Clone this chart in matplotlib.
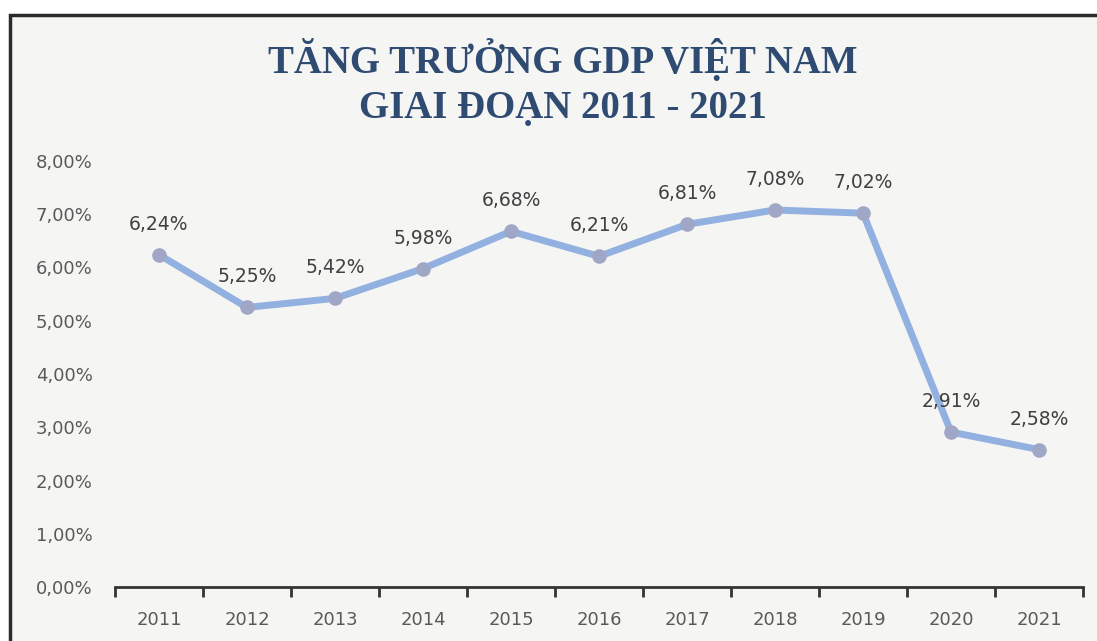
import matplotlib.pyplot as plt
from matplotlib.patches import Rectangle
from matplotlib.ticker import FuncFormatter

years = ['2011', '2012', '2013', '2014', '2015', '2016', '2017', '2018', '2019', '2020', '2021']
gdp = [6.24, 5.25, 5.42, 5.98, 6.68, 6.21, 6.81, 7.08, 7.02, 2.91, 2.58]
yticks = [0, 1, 2, 3, 4, 5, 6, 7, 8]
title_lines = ['TĂNG TRƯỞNG GDP VIỆT NAM', 'GIAI ĐOẠN 2011 - 2021']

plt.rcParams['font.family'] = ['DejaVu Sans']

fig = plt.figure(figsize=(10.97, 6.41), dpi=100)
fig.patch.set_facecolor('white')

# chart area background + frame (cut off at right/bottom like the scan)
bg = Rectangle((10 / 1097, -0.05), 1.1, (641 - 15) / 641 + 0.05, transform=fig.transFigure,
               facecolor='#f5f5f3', edgecolor='#2b2b2b', linewidth=2.5, zorder=-5)
fig.patches.append(bg)

ax = fig.add_axes([115 / 1097, 54 / 641, (1083 - 115) / 1097, (587 - 161) / 641])
ax.set_zorder(2)
ax.set_facecolor('none')

x = list(range(len(years)))
ax.plot(x, gdp, color='#93b1e0', linewidth=5, solid_capstyle='round', zorder=2)
ax.plot(x, gdp, 'o', color='#a0a7c6', markersize=9.5, zorder=3)

for i, v in enumerate(gdp):
    ax.annotate('{:.2f}%'.format(v).replace('.', ','), (i, v), xytext=(0, 22),
                textcoords='offset points', ha='center', va='center',
                fontsize=13.5, color='#404040')

ax.set_xlim(-0.5, len(years) - 0.5)
ax.set_ylim(0, 8)
ax.set_yticks(yticks)
ax.yaxis.set_major_formatter(FuncFormatter(lambda v, p: '{:.2f}%'.format(v).replace('.', ',')))
ax.set_xticks(x)
ax.set_xticklabels(years)
ax.set_xticks([i - 0.5 for i in range(len(years) + 1)], minor=True)

for s in ['top', 'right', 'left']:
    ax.spines[s].set_visible(False)
ax.spines['bottom'].set_color('#333333')
ax.spines['bottom'].set_linewidth(2)

ax.tick_params(axis='y', length=0, pad=16, labelsize=13, labelcolor='#595959')
ax.tick_params(axis='x', which='major', length=0, pad=17, labelsize=13, labelcolor='#595959')
ax.tick_params(axis='x', which='minor', length=7, width=2, color='#333333', direction='out')

fig.text(563 / 1097, 1 - 73 / 641, title_lines[0], ha='center', va='baseline', fontsize=28,
         fontweight='bold', family='Liberation Serif', color='#2f4b72')
fig.text(563 / 1097, 1 - 118 / 641, title_lines[1], ha='center', va='baseline', fontsize=28,
         fontweight='bold', family='Liberation Serif', color='#2f4b72')

fig.savefig('out.png', dpi=100, facecolor=fig.get_facecolor())
